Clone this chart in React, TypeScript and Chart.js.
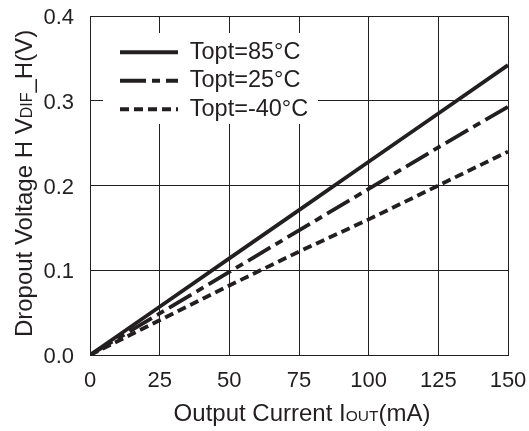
import React, { useEffect, useRef } from 'react';
import { Chart, registerables } from 'chart.js';

Chart.register(...registerables);

// ---- data ----
const currents = [0, 25, 50, 75, 100, 125, 150];
const v85 = [0, 0.057, 0.114, 0.171, 0.228, 0.285, 0.342];
const v25 = [0, 0.049, 0.098, 0.147, 0.196, 0.245, 0.293];
const vm40 = [0, 0.041, 0.082, 0.122, 0.16, 0.2, 0.24];
const seriesLabels = ['Topt=85°C', 'Topt=25°C', 'Topt=-40°C'];
const xTitleRuns: [string, boolean][] = [['Output Current I', false], ['OUT', true], ['(mA)', false]];
const yTitleRuns: [string, boolean][] = [['Dropout Voltage H V', false], ['DIF', true], ['_H(V)', false]];

const FONT = '"Liberation Sans", Arial, Helvetica, sans-serif';
const INK = '#231f20';

function drawRuns(ctx: CanvasRenderingContext2D, runs: [string, boolean][], cx: number, by: number, big: number, small: number) {
  const widths = runs.map(([t, s]) => {
    ctx.font = `${s ? small : big}px ${FONT}`;
    return ctx.measureText(t).width;
  });
  const total = widths.reduce((a, b) => a + b, 0);
  let x = cx - total / 2;
  ctx.textAlign = 'left';
  ctx.textBaseline = 'alphabetic';
  runs.forEach(([t, s], i) => {
    ctx.font = `${s ? small : big}px ${FONT}`;
    ctx.fillText(t, x, by);
    x += widths[i];
  });
}

const titlesPlugin = {
  id: 'mixedTitles',
  afterLayout(chart: any) {
    const lg = chart.legend;
    const ca = chart.chartArea;
    if (lg && ca) {
      lg.left = ca.left + 25;
      lg.top = ca.top + 19.5;
      lg.right = lg.left + lg.width;
      lg.bottom = lg.top + lg.height;
    }
  },
  beforeDatasetsDraw(chart: any) {
    const ctx = chart.ctx as CanvasRenderingContext2D;
    const lg = chart.legend;
    if (!lg) return;
    ctx.save();
    ctx.fillStyle = '#ffffff';
    ctx.fillRect(lg.left - 12, lg.top - 2.5, 215, 91);
    ctx.restore();
    lg.draw(chart.chartArea);
  },
  afterDraw(chart: any) {
    const ctx = chart.ctx as CanvasRenderingContext2D;
    const ca = chart.chartArea;
    ctx.save();
    ctx.fillStyle = INK;
    drawRuns(ctx, xTitleRuns, (ca.left + ca.right) / 2 + 3, 421, 24, 15.5);
    ctx.translate(32, (ca.top + ca.bottom) / 2 - 2);
    ctx.rotate(-Math.PI / 2);
    drawRuns(ctx, yTitleRuns, 0, 0, 24, 16);
    ctx.restore();
  },
};

const toPts = (ys: number[]) => currents.map((x, i) => ({ x, y: ys[i] }));

export default function App() {
  const ref = useRef<HTMLCanvasElement | null>(null);
  useEffect(() => {
    if (!ref.current) return;
    const lineBase = {
      borderColor: INK,
      backgroundColor: INK,
      borderWidth: 3.8,
      pointRadius: 0,
      tension: 0,
      fill: false,
    };
    const chart = new Chart(ref.current, {
      type: 'line',
      data: {
        datasets: [
          { ...lineBase, label: seriesLabels[0], data: toPts(v85), borderDash: [] },
          { ...lineBase, label: seriesLabels[1], data: toPts(v25), borderDash: [26, 6, 8, 6] },
          { ...lineBase, label: seriesLabels[2], data: toPts(vm40), borderDash: [9, 5] },
        ],
      },
      options: {
        responsive: false,
        animation: false,
        layout: { padding: { left: 0, top: 16, right: 21, bottom: 0 } },
        plugins: {
          tooltip: { enabled: false },
          legend: {
            position: 'chartArea',
            align: 'start',
            fullSize: false,
            labels: {
              usePointStyle: true,
              pointStyle: 'line',
              pointStyleWidth: 58,
              padding: 5,
              color: INK,
              font: { family: FONT, size: 23.5 },
              generateLabels: (c: any) =>
                (Chart.defaults.plugins.legend.labels.generateLabels as any)(c).map((it: any) => {
                  const ds: any = c.data.datasets[it.datasetIndex];
                  return { ...it, lineDash: ds.borderDash, lineWidth: ds.borderWidth, strokeStyle: ds.borderColor, pointStyle: 'line' };
                }),
            },
          },
        },
        scales: {
          x: {
            type: 'linear',
            min: 0,
            max: 150,
            afterFit: (s: any) => { s.height = 76; s.paddingLeft = 0; s.paddingRight = 0; },
            ticks: { stepSize: 25, color: INK, padding: 13, font: { family: FONT, size: 22 } },
            grid: { color: INK, lineWidth: 1, drawTicks: false },
            border: { color: INK, width: 1 },
          },
          y: {
            type: 'linear',
            min: 0,
            max: 0.4,
            afterFit: (s: any) => { s.width = 90; s.paddingTop = 0; s.paddingBottom = 0; },
            ticks: {
              stepSize: 0.1,
              color: INK,
              padding: 16,
              labelOffset: 2,
              font: { family: FONT, size: 22 },
              callback: (v: any) => Number(v).toFixed(1),
            },
            grid: { color: INK, lineWidth: 1, drawTicks: false },
            border: { color: INK, width: 1 },
          },
        },
      } as any,
      plugins: [titlesPlugin],
    });
    return () => chart.destroy();
  }, []);
  return (
    <div style={{ position: 'fixed', left: 0, top: 0, width: 529, height: 431, background: '#fff' }}>
      <canvas ref={ref} width={529} height={431} style={{ display: 'block' }} />
    </div>
  );
}
